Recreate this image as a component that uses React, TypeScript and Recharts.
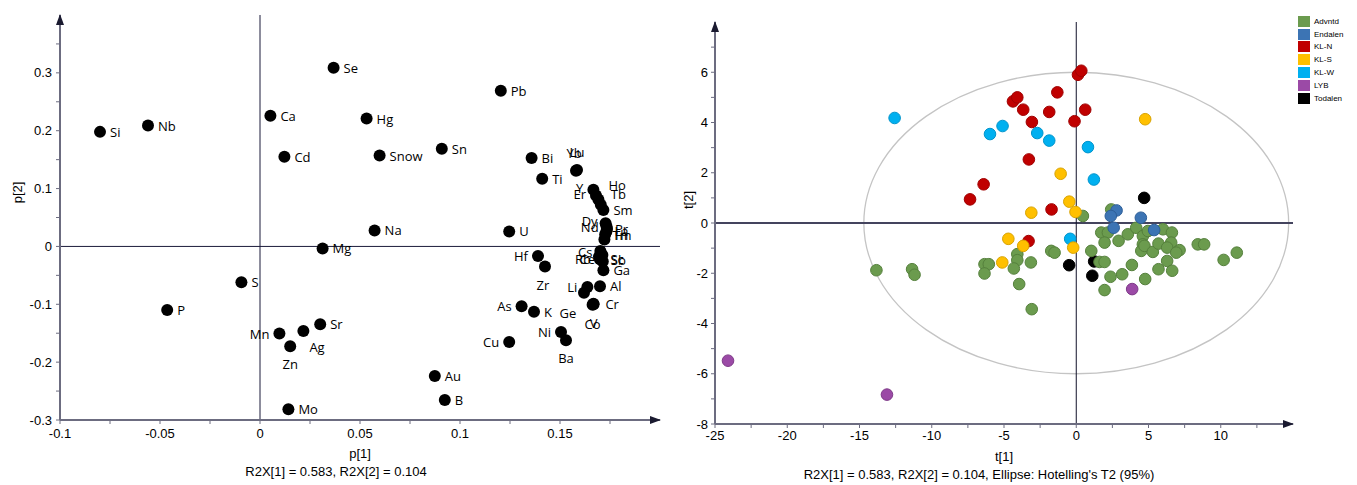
import React from "react";
import { ScatterChart, Scatter, XAxis, YAxis, ReferenceLine, ReferenceArea, ReferenceDot, Label } from "recharts";

const FONT = "'Liberation Sans', Arial, sans-serif";
const LABEL_FONT = "'Open Sans', 'Liberation Sans', sans-serif";
const AXIS = "#6c6c80";

// ---- loadings (left plot) ----
const loadNames = [
  "Si", "Nb", "Ca", "Se", "Hg", "Pb", "Cd", "Snow", "Sn", "Bi", "Yb", "Lu", "Ti",
  "Y", "Er", "Ho", "Tb", "Sm", "Dy", "Nd", "Pr", "La", "Tm", "Th", "Na", "U", "Mg",
  "Hf", "Zr", "Cs", "Rb", "Ce", "Sc", "Sb", "Ga", "Li", "Ge", "Al", "Cr", "Co", "V",
  "As", "K", "Cu", "Ni", "Ba", "Au", "B", "Mo", "S", "P", "Mn", "Zn", "Ag", "Sr",
];
const loadP1 = [
  -0.08, -0.056, 0.0052, 0.0368, 0.0533, 0.1204, 0.0122, 0.0598, 0.0909, 0.1358, 0.158, 0.1585, 0.1411,
  0.1667, 0.168, 0.1692, 0.1704, 0.1717, 0.1728, 0.1733, 0.1735, 0.1732, 0.1722, 0.1726, 0.0573, 0.1246, 0.0313,
  0.139, 0.1425, 0.1702, 0.1695, 0.17, 0.1712, 0.1714, 0.1717, 0.1637, 0.162, 0.17, 0.1667, 0.1663, 0.1668,
  0.1308, 0.137, 0.1246, 0.1505, 0.153, 0.0874, 0.0924, 0.0142, -0.0093, -0.0464, 0.0097, 0.0151, 0.0217, 0.0301,
];
const loadP2 = [
  0.198, 0.209, 0.226, 0.309, 0.221, 0.269, 0.155, 0.157, 0.169, 0.153, 0.131, 0.132, 0.117,
  0.098, 0.088, 0.081, 0.072, 0.063, 0.04, 0.034, 0.03, 0.026, 0.012, 0.021, 0.0276, 0.026, -0.0034,
  -0.0167, -0.0345, -0.008, -0.018, -0.022, -0.015, -0.026, -0.041, -0.07, -0.08, -0.069, -0.099, -0.101, -0.1,
  -0.1034, -0.113, -0.165, -0.148, -0.162, -0.224, -0.2655, -0.2816, -0.062, -0.11, -0.1506, -0.1724, -0.146, -0.1345,
];

const p1Ticks = [-0.1, -0.075, -0.05, -0.025, 0, 0.025, 0.05, 0.075, 0.1, 0.125, 0.15, 0.175];
const p1Major = [-0.1, -0.05, 0, 0.05, 0.1, 0.15];
const p2Ticks = [-0.3, -0.25, -0.2, -0.15, -0.1, -0.05, 0, 0.05, 0.1, 0.15, 0.2, 0.25, 0.3, 0.35];
const p2Major = [-0.3, -0.2, -0.1, 0, 0.1, 0.2, 0.3];

// label placement next to each loading dot: [dx, dy, anchor]
const LABEL_POS: Record<string, [number, number, string]> = {
  Yb: [-2, -18, "middle"], Lu: [0, -18, "middle"],
  Y: [-10, -2, "end"], Er: [-10, -2, "end"], Ho: [10, -15, "start"], Tb: [10, -11, "start"],
  Dy: [-8, -2, "end"], Nd: [-8, 0, "end"], Pr: [8, 0, "start"], La: [8, 0, "start"],
  Th: [8, 1, "start"], Tm: [8, -4, "start"],
  Cs: [-8, 1, "end"], Rb: [-8, 2, "end"], Ce: [-5, 0, "end"], Sc: [8, 4, "start"], Sb: [8, -1, "start"],
  Hf: [-10, 0, "end"], Zr: [-2, 19, "middle"], Li: [-10, 0, "end"], Ge: [-16, 20, "middle"],
  Cr: [12, 0, "start"], Co: [0, 19, "middle"], V: [0, 19, "middle"],
  As: [-10, 0, "end"], Cu: [-10, 0, "end"], Ni: [-10, 0, "end"], Ba: [0, 18, "middle"],
  Mn: [-10, 0, "end"], Zn: [0, 18, "middle"], Ag: [6, 16, "start"],
};

// ---- scores (right plot) ----
const groups = ["Advntd", "Endalen", "KL-N", "KL-S", "KL-W", "LYB", "Todalen"];
const groupColors = ["#6b9b4e", "#3c74b4", "#c00000", "#ffc000", "#00b0f0", "#9b4aa6", "#000000"];
const groupEdges = ["#55803c", "#2e5f99", "#a00000", "#d9a300", "#0094cc", "#7e3a88", "#000000"];

const scoresAdvntd = [
  [-13.83, -1.88], [-11.36, -1.84], [-11.19, -2.06], [-6.35, -1.64], [-6.05, -1.64], [-6.35, -2.01],
  [-4.08, -1.24], [-4.08, -1.48], [-4.32, -1.81], [-3.14, -1.57], [-3.95, -2.43], [-3.08, -3.43],
  [-1.73, -1.11], [-1.5, -1.18], [0.46, 0.28], [2.42, 0.54], [1.04, -1.11], [1.73, -0.38], [2.19, -0.38],
  [1.96, -0.78], [2.93, -0.71], [3.57, -0.45], [4.15, -0.19], [4.61, -0.52], [4.61, -0.85], [4.5, -1.11],
  [4.96, -0.32], [4.72, -0.91], [5.3, -1.15], [5.69, -0.82], [6.0, -0.25], [6.62, -0.38], [6.57, -0.78],
  [6.29, -0.98], [7.15, -1.08], [6.92, -1.18], [8.41, -0.85], [8.85, -0.85], [10.2, -1.47], [11.11, -1.18],
  [1.61, -1.55], [1.96, -1.55], [3.85, -1.67], [6.29, -1.51], [5.69, -1.84], [6.64, -1.9], [3.18, -2.04],
  [2.37, -2.14], [4.77, -2.23], [1.96, -2.67],
];
const scoresEndalen = [[2.79, 0.5], [2.39, 0.28], [4.47, 0.21], [2.59, -0.19], [5.39, -0.28]];
const scoresKLN = [
  [0.12, 5.9], [0.35, 6.06], [-4.38, 4.84], [-4.08, 5.0], [-3.67, 4.51], [-1.31, 5.2], [-1.87, 4.42],
  [0.62, 4.51], [-3.07, 4.02], [-0.12, 4.05], [-3.28, 2.53], [-6.41, 1.54], [-7.35, 0.94], [-1.71, 0.54],
  [-3.3, -0.72],
];
const scoresKLS = [
  [4.77, 4.13], [-1.08, 1.96], [-0.48, 0.85], [-0.05, 0.44], [-3.11, 0.41], [-4.7, -0.63], [-3.67, -0.91],
  [-5.12, -1.57], [-0.21, -0.98],
];
const scoresKLW = [
  [-12.57, 4.18], [-5.97, 3.54], [-5.1, 3.86], [-2.7, 3.58], [-1.87, 3.28], [0.81, 3.02], [1.22, 1.73],
  [-0.42, -0.63],
];
const scoresLYB = [[-24.1, -5.48], [-13.1, -6.83], [3.87, -2.63]];
const scoresTodalen = [[4.7, 1.0], [-0.49, -1.68], [1.24, -1.53], [1.11, -2.1]];
const groupScores = [scoresAdvntd, scoresEndalen, scoresKLN, scoresKLS, scoresKLW, scoresLYB, scoresTodalen];
const drawOrder = [6, 0, 1, 2, 4, 3, 5];

const t1Ticks = [-25, -22.5, -20, -17.5, -15, -12.5, -10, -7.5, -5, -2.5, 0, 2.5, 5, 7.5, 10, 12.5];
const t1Major = [-25, -20, -15, -10, -5, 0, 5, 10];
const t2Ticks = [-8, -7, -6, -5, -4, -3, -2, -1, 0, 1, 2, 3, 4, 5, 6, 7];
const t2Major = [-8, -6, -4, -2, 0, 2, 4, 6];

// Hotelling's T2 ellipse semi-axes
const ellipseT1 = 14.7;
const ellipseT2 = 6.0;

const loadData = loadNames.map((name, i) => ({ name, p1: loadP1[i], p2: loadP2[i] }));

const tickStyle = { fontSize: 13, fill: "#000", fontFamily: FONT };

const LoadingDot = (props: any) => {
  const { cx, cy, payload } = props;
  const [dx, dy, anchor] = LABEL_POS[payload.name] ?? [10, 0, "start"];
  return (
    <g>
      <circle cx={cx} cy={cy} r={6} fill="#000" />
      <text x={cx + dx} y={cy + dy} textAnchor={anchor as any} dominantBaseline="central"
        fontSize={13} fontFamily={LABEL_FONT} fill="#000">{payload.name}</text>
    </g>
  );
};

const arrowRight = (p: any) => <path d={`M${p.cx + 1},${p.cy} l-11,-4 l0,8 z`} fill="#1a1a30" />;
const arrowUp = (p: any) => <path d={`M${p.cx},${p.cy - 1} l-4,11 l8,0 z`} fill="#1a1a30" />;

const xTitle = (title: string, caption: string, shift: number, gap: number) => (props: any) => {
  const vb = props.viewBox;
  const cx = vb.x + vb.width / 2;
  return (
    <g fontFamily={FONT} fontSize={13} fill="#000">
      <text x={cx} y={vb.y + gap} textAnchor="middle" dominantBaseline="central">{title}</text>
      <text x={cx + shift} y={vb.y + gap + 18} textAnchor="middle" dominantBaseline="central">{caption}</text>
    </g>
  );
};

const yTitle = (title: string, dx: number, dy: number) => (props: any) => {
  const vb = props.viewBox;
  const x = vb.x + dx;
  const y = vb.y + vb.height / 2 + dy;
  return (
    <text x={x} y={y} transform={`rotate(-90 ${x} ${y})`} textAnchor="middle" dominantBaseline="central"
      fontFamily={FONT} fontSize={13} fill="#000">{title}</text>
  );
};

function LoadingsPlot() {
  return (
    <ScatterChart width={680} height={485} margin={{ top: 15, right: 20, bottom: 0, left: 0 }}>
      <XAxis type="number" dataKey="p1" domain={[-0.1, 0.2]} allowDataOverflow ticks={p1Ticks} interval={0}
        tickFormatter={(v: number) => (p1Major.includes(v) ? String(v) : "")}
        axisLine={{ stroke: AXIS, strokeWidth: 2 }} tickLine={{ stroke: AXIS }} tickSize={4} tickMargin={5}
        tick={tickStyle} height={65}>
        <Label content={xTitle("p[1]", "R2X[1] = 0.583, R2X[2] = 0.104", -24, 33)} />
      </XAxis>
      <YAxis type="number" dataKey="p2" domain={[-0.3, 0.4]} allowDataOverflow ticks={p2Ticks} interval={0}
        tickFormatter={(v: number) => (p2Major.includes(v) ? String(v) : "")}
        axisLine={{ stroke: AXIS, strokeWidth: 2 }} tickLine={{ stroke: AXIS }} tickSize={4} tickMargin={4}
        tick={tickStyle} width={60}>
        <Label content={yTitle("p[2]", 17, -25)} />
      </YAxis>
      <ReferenceLine x={0} stroke="#1a1a3a" strokeWidth={1} />
      <ReferenceLine y={0} stroke="#1a1a3a" strokeWidth={1} />
      <ReferenceDot x={0.2} y={-0.3} ifOverflow="visible" shape={arrowRight} />
      <ReferenceDot x={-0.1} y={0.4} ifOverflow="visible" shape={arrowUp} />
      <Scatter data={loadData} shape={LoadingDot} isAnimationActive={false} />
    </ScatterChart>
  );
}

function ScoresPlot() {
  return (
    <ScatterChart width={677} height={485} margin={{ top: 22, right: 64, bottom: 0, left: 0 }}>
      <XAxis type="number" dataKey="t1" domain={[-25, 15]} allowDataOverflow ticks={t1Ticks} interval={0}
        tickFormatter={(v: number) => (t1Major.includes(v) ? String(v) : "")}
        axisLine={{ stroke: AXIS, strokeWidth: 2 }} tickLine={{ stroke: AXIS }} tickSize={4} tickMargin={3}
        tick={tickStyle} height={61}>
        <Label content={xTitle("t[1]", "R2X[1] = 0.583, R2X[2] = 0.104, Ellipse: Hotelling's T2 (95%)", -25, 32)} />
      </XAxis>
      <YAxis type="number" dataKey="t2" domain={[-8, 8]} allowDataOverflow ticks={t2Ticks} interval={0}
        tickFormatter={(v: number) => (t2Major.includes(v) ? String(v) : "")}
        axisLine={{ stroke: AXIS, strokeWidth: 2 }} tickLine={{ stroke: AXIS }} tickSize={4} tickMargin={3}
        tick={tickStyle} width={35}>
        <Label content={yTitle("t[2]", 8, -23)} />
      </YAxis>
      <ReferenceArea x1={-ellipseT1} x2={ellipseT1} y1={-ellipseT2} y2={ellipseT2}
        shape={(p: any) => (
          <ellipse cx={p.x + p.width / 2} cy={p.y + p.height / 2} rx={Math.abs(p.width) / 2}
            ry={Math.abs(p.height) / 2} fill="none" stroke="#c4c4c4" strokeWidth={1.3} />
        )} />
      <ReferenceLine y={0} stroke="#44445e" strokeWidth={2} />
      <ReferenceLine x={0} stroke="#101028" strokeWidth={1} />
      <ReferenceDot x={15} y={-8} ifOverflow="visible" shape={arrowRight} />
      <ReferenceDot x={-25} y={8} ifOverflow="visible" shape={arrowUp} />
      {drawOrder.map((g) => (
        <Scatter key={groups[g]} name={groups[g]} isAnimationActive={false}
          data={groupScores[g].map(([t1, t2]) => ({ t1, t2 }))}
          shape={(p: any) => (
            <circle cx={p.cx} cy={p.cy} r={5.8} fill={groupColors[g]} stroke={groupEdges[g]} strokeWidth={1} />
          )} />
      ))}
    </ScatterChart>
  );
}

function ScoresLegend() {
  return (
    <div style={{ position: "absolute", left: 1298, top: 15, fontFamily: FONT, fontSize: 8, color: "#000" }}>
      {groups.map((g, i) => (
        <div key={g} style={{ display: "flex", alignItems: "center", height: 12.8 }}>
          <div style={{ width: 12, height: 11, background: groupColors[i], marginRight: 4 }} />
          <span>{g}</span>
        </div>
      ))}
    </div>
  );
}

export default function App() {
  return (
    <div style={{ position: "absolute", left: 0, top: 0, width: 1357, height: 485, background: "#fff", overflow: "hidden" }}>
      <div style={{ position: "absolute", left: 0, top: 0 }}>
        <LoadingsPlot />
      </div>
      <div style={{ position: "absolute", left: 680, top: 0 }}>
        <ScoresPlot />
      </div>
      <ScoresLegend />
    </div>
  );
}
